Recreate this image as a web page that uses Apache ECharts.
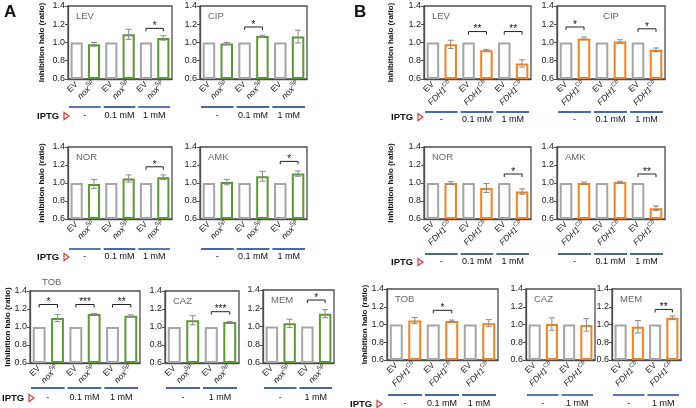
<!DOCTYPE html>
<html><head><meta charset="utf-8">
<script src="https://cdn.jsdelivr.net/npm/echarts@6/dist/echarts.min.js"></script>
<style>html,body{margin:0;padding:0;background:#fff}#c{width:696px;height:408px}</style>
</head><body><div id="c"></div>
<script>
// ---- categories / labels ----
const catsNox = ['EV','nox','EV','nox','EV','nox'];
const catsNox2 = ['EV','nox','EV','nox'];
const catsFdh = ['EV','fdh','EV','fdh','EV','fdh'];
const catsFdh2 = ['EV','fdh','EV','fdh'];
const groups3 = ['-','0.1 mM','1 mM'];
const groups2 = ['-','1 mM'];
const yTickLabels = ['0.6','0.8','1.0','1.2','1.4'];
const yName = 'Inhibition halo (ratio)';

// ---- Panel A (nox Sp) ----
const A_LEV = [1.00,0.98,1.00,1.09,1.00,1.05];
const A_LEV_err = [0,0.02,0,0.055,0,0.025];
const A_LEV_sig = [[2,'*',1.155]];
const A_CIP = [1.00,0.99,1.00,1.07,1.00,1.065];
const A_CIP_err = [0,0.01,0,0.01,0,0.07];
const A_CIP_sig = [[1,'*',1.17]];
const A_NOR = [1.00,0.99,1.00,1.05,1.00,1.065];
const A_NOR_err = [0,0.05,0,0.04,0,0.025];
const A_NOR_sig = [[2,'*',1.18]];
const A_AMK = [1.00,1.01,1.00,1.075,1.00,1.105];
const A_AMK_err = [0,0.03,0,0.055,0,0.03];
const A_AMK_sig = [[2,'*',1.24]];
const A_TOB = [1.00,1.10,1.00,1.145,1.00,1.125];
const A_TOB_err = [0,0.04,0,0.005,0,0.01];
const A_TOB_sig = [[0,'*',1.25],[1,'***',1.25],[2,'**',1.25]];
const A_CAZ = [1.00,1.075,1.00,1.055];
const A_CAZ_err = [0,0.05,0,0.005];
const A_CAZ_sig = [[1,'***',1.17]];
const A_MEM = [1.00,1.035,1.00,1.14];
const A_MEM_err = [0,0.045,0,0.045];
const A_MEM_sig = [[1,'*',1.29]];

// ---- Panel B (FDH1 Cb) ----
const B_LEV = [1.00,0.98,1.00,0.915,1.00,0.77];
const B_LEV_err = [0,0.045,0,0.01,0,0.04];
const B_LEV_sig = [[1,'**',1.12],[2,'**',1.12]];
const B_CIP = [1.00,1.045,1.00,1.01,1.00,0.92];
const B_CIP_err = [0,0.015,0,0.02,0,0.02];
const B_CIP_sig = [[0,'*',1.17],[2,'*',1.15]];
const B_NOR = [1.00,1.00,1.00,0.945,1.00,0.905];
const B_NOR_err = [0,0.015,0,0.05,0,0.03];
const B_NOR_sig = [[2,'*',1.10]];
const B_AMK = [1.00,1.00,1.00,1.01,1.00,0.72];
const B_AMK_err = [0,0.01,0,0.01,0,0.025];
const B_AMK_sig = [[2,'**',1.10]];
const B_TOB = [1.00,1.045,1.00,1.04,1.00,1.015];
const B_TOB_err = [0,0.035,0,0.01,0,0.04];
const B_TOB_sig = [[1,'*',1.16]];
const B_CAZ = [1.00,1.005,1.00,0.995];
const B_CAZ_err = [0,0.07,0,0.07];
const B_CAZ_sig = [];
const B_MEM = [1.00,0.975,1.00,1.075];
const B_MEM_err = [0,0.07,0,0.02];
const B_MEM_sig = [[1,'**',1.17]];

// ---- style ----
const GREEN = '#5a9a32', ORANGE = '#f4821f', GREY = '#a5a5a5', FRAME = '#4d4d4d', BLUE = '#4a68a6', ERR = '#8a8a8a';
const FONT = 'Arial, "Liberation Sans", Helvetica, sans-serif';

// layout: box = [left, top, width, height]
const panels = [
  {t:'LEV', cats:catsNox, v:A_LEV, e:A_LEV_err, s:A_LEV_sig, g:groups3, c:GREEN, box:[68,6,104,73], lo:28, la:37},
  {t:'CIP', cats:catsNox, v:A_CIP, e:A_CIP_err, s:A_CIP_sig, g:groups3, c:GREEN, box:[200,6,107,73], lo:28, la:37},
  {t:'NOR', cats:catsNox, v:A_NOR, e:A_NOR_err, s:A_NOR_sig, g:groups3, c:GREEN, box:[68,147,104,72], lo:30, la:38},
  {t:'AMK', cats:catsNox, v:A_AMK, e:A_AMK_err, s:A_AMK_sig, g:groups3, c:GREEN, box:[200,147,107,72], lo:30, la:38},
  {t:'TOB', cats:catsNox, v:A_TOB, e:A_TOB_err, s:A_TOB_sig, g:groups3, c:GREEN, box:[30,291,110,72], lo:25, la:35, tOut:true},
  {t:'CAZ', cats:catsNox2, v:A_CAZ, e:A_CAZ_err, s:A_CAZ_sig, g:groups2, c:GREEN, box:[165,291,74,72], lo:25, la:35},
  {t:'MEM', cats:catsNox2, v:A_MEM, e:A_MEM_err, s:A_MEM_sig, g:groups2, c:GREEN, box:[263,290,71,73], lo:25, la:35},
  {t:'LEV', cats:catsFdh, v:B_LEV, e:B_LEV_err, s:B_LEV_sig, g:groups3, c:ORANGE, box:[424,6,107,73], lo:33, la:41},
  {t:'CIP', cats:catsFdh, v:B_CIP, e:B_CIP_err, s:B_CIP_sig, g:groups3, c:ORANGE, box:[557,6,108,73], lo:33, la:41, tCenter:true},
  {t:'NOR', cats:catsFdh, v:B_NOR, e:B_NOR_err, s:B_NOR_sig, g:groups3, c:ORANGE, box:[424,147,107,72], lo:35, la:43},
  {t:'AMK', cats:catsFdh, v:B_AMK, e:B_AMK_err, s:B_AMK_sig, g:groups3, c:ORANGE, box:[557,147,108,72], lo:35, la:43},
  {t:'TOB', cats:catsFdh, v:B_TOB, e:B_TOB_err, s:B_TOB_sig, g:groups3, c:ORANGE, box:[387,289,111,71], lo:35, la:44},
  {t:'CAZ', cats:catsFdh2, v:B_CAZ, e:B_CAZ_err, s:B_CAZ_sig, g:groups2, c:ORANGE, box:[526,289,69,71], lo:35, la:44},
  {t:'MEM', cats:catsFdh2, v:B_MEM, e:B_MEM_err, s:B_MEM_sig, g:groups2, c:ORANGE, box:[612,289,69,71], lo:35, la:44}
];
// y-axis titles [x, panel index for vertical centre]
const yTitles = [[42,0],[42,2],[8,4],[391,7],[391,9],[365,11]];
// IPTG labels [x, y]
const iptg = [[37,116],[37,257],[2,398],[391,117],[391,262],[350,404]];

const labelFmt = v => v === 'nox' ? '{i|nox}{s|Sp}' : v === 'fdh' ? '{i|FDH1}{s|Cb}' : v;
const rich = {
  i:{fontStyle:'italic', fontSize:8.5, fontFamily:FONT, color:'#222'},
  s:{fontStyle:'italic', fontSize:6, fontFamily:FONT, color:'#222', padding:[0,0,7,0]}
};

const grids=[], xAxes=[], yAxes=[], series=[], graphic=[];
panels.forEach((p,i)=>{
  const [l,t,w,h] = p.box;
  grids.push({left:l, top:t, width:w, height:h, show:true, borderColor:FRAME, borderWidth:1.3, backgroundColor:'transparent', containLabel:false, outerBoundsMode:'none'});
  xAxes.push({gridIndex:i, type:'category', data:p.cats,
    axisLine:{show:true, lineStyle:{color:FRAME, width:1.3}}, axisTick:{show:false},
    axisLabel:{interval:0, rotate:45, margin:4, fontSize:8.5, fontFamily:FONT, color:'#222', formatter:labelFmt, rich:rich, hideOverlap:false}});
  yAxes.push({gridIndex:i, type:'value', min:0.6, max:1.4, interval:0.2, startValue:0.6,
    axisLine:{show:true, lineStyle:{color:FRAME, width:1.3}},
    axisTick:{show:true, length:3, lineStyle:{color:FRAME}},
    axisLabel:{fontSize:9, fontFamily:FONT, color:'#222', margin:3, formatter:(v)=>yTickLabels[Math.round((v-0.6)/0.2)]},
    splitLine:{show:false}});
  series.push({type:'bar', xAxisIndex:i, yAxisIndex:i, barWidth:'70%', silent:true, animation:false, z:2,
    data:p.v.map((v,k)=>({value:v, itemStyle:{color:'#fff', borderColor:k%2?p.c:GREY, borderWidth:2}}))});
  // error bars
  series.push({type:'custom', xAxisIndex:i, yAxisIndex:i, silent:true, animation:false, z:5, clip:false,
    data:p.v.map((v,k)=>[k,v,p.e[k]]),
    renderItem:(params,api)=>{
      const k=api.value(0), v=api.value(1), e=api.value(2);
      if(!e) return null;
      const a=api.coord([k,v+e]), b=api.coord([k,v-e]); const cw=3;
      const st={stroke:ERR, lineWidth:1};
      return {type:'group', children:[
        {type:'line', shape:{x1:a[0],y1:a[1],x2:b[0],y2:b[1]}, style:st},
        {type:'line', shape:{x1:a[0]-cw,y1:a[1],x2:a[0]+cw,y2:a[1]}, style:st},
        {type:'line', shape:{x1:b[0]-cw,y1:b[1],x2:b[0]+cw,y2:b[1]}, style:st}]};
    }});
  // significance brackets
  if(p.s.length) series.push({type:'custom', xAxisIndex:i, yAxisIndex:i, silent:true, animation:false, z:5, clip:false,
    data:p.s.map(s=>[2*s[0], s[2]]),
    renderItem:(params,api)=>{
      const sg=p.s[params.dataIndex];
      const a=api.coord([2*sg[0],sg[2]]), b=api.coord([2*sg[0]+1,sg[2]]);
      return {type:'group', children:[
        {type:'polyline', shape:{points:[[a[0],a[1]+3],[a[0],a[1]],[b[0],b[1]],[b[0],b[1]+3]]}, style:{stroke:'#222', lineWidth:1, fill:null}},
        {type:'text', x:(a[0]+b[0])/2, y:a[1]+3, style:{text:sg[1], fill:'#111', font:'10px '+FONT, textAlign:'center', textVerticalAlign:'bottom'}}]};
    }});
  // group lines & concentration labels
  series.push({type:'custom', xAxisIndex:i, yAxisIndex:i, silent:true, animation:false, z:5, clip:false,
    data:p.g.map((g,k)=>[2*k,0.6]),
    renderItem:(params,api)=>{
      const k=params.dataIndex; const bw=api.size([1,0])[0];
      const c=api.coord([2*k,0.6]);
      const x0=c[0]-bw/2+1, x1=c[0]+1.5*bw-2, y=c[1]+p.lo;
      return {type:'group', children:[
        {type:'line', shape:{x1:x0,y1:y,x2:x1,y2:y}, style:{stroke:BLUE, lineWidth:1.8}},
        {type:'text', x:(x0+x1)/2, y:c[1]+p.la, style:{text:p.g[k], fill:'#111', font:'9px '+FONT, textAlign:'center', textVerticalAlign:'middle'}}]};
    }});
  // panel title
  let tx=l+8, ty=t+10, ta='left';
  if(p.tOut){ tx=l+12; ty=t-9; }
  if(p.tCenter){ tx=l+w/2; ta='center'; }
  graphic.push({type:'text', x:tx, y:ty, silent:true, style:{text:p.t, fill:'#666', font:'9.5px '+FONT, textAlign:ta, textVerticalAlign:'middle'}});
});

yTitles.forEach(([x,pi])=>{
  const b=panels[pi].box;
  graphic.push({type:'text', x:x, y:b[1]+b[3]/2, rotation:Math.PI/2, silent:true,
    style:{text:yName, fill:'#111', font:'bold 8px '+FONT, textAlign:'center', textVerticalAlign:'middle'}});
});
iptg.forEach(([x,y])=>{
  graphic.push({type:'text', x:x, y:y, silent:true, style:{text:'IPTG', fill:'#111', font:'bold 9.5px '+FONT, textAlign:'left', textVerticalAlign:'middle'}});
  graphic.push({type:'polygon', x:x+27, y:y, silent:true, shape:{points:[[0,-3.5],[5,0],[0,3.5]]}, style:{fill:'#fff', stroke:'#e03a3a', lineWidth:1.2}});
});
graphic.push({type:'text', x:4, y:4, silent:true, style:{text:'A', fill:'#111', font:'bold 17px '+FONT, textAlign:'left', textVerticalAlign:'top'}});
graphic.push({type:'text', x:354, y:4, silent:true, style:{text:'B', fill:'#111', font:'bold 17px '+FONT, textAlign:'left', textVerticalAlign:'top'}});

const chart = echarts.init(document.getElementById('c'), null, {renderer:'canvas'});
chart.setOption({animation:false, backgroundColor:'#fff', textStyle:{fontFamily:FONT},
  grid:grids, xAxis:xAxes, yAxis:yAxes, series:series, graphic:graphic});
</script></body></html>
